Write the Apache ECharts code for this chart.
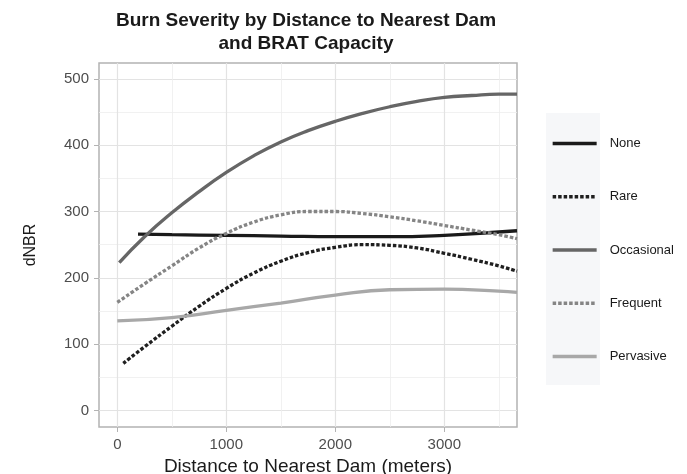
<!DOCTYPE html>
<html>
<head>
<meta charset="utf-8">
<script src="https://cdn.jsdelivr.net/npm/echarts@6/dist/echarts.min.js"></script>
<style>
  html, body { margin: 0; padding: 0; background: #fff; }
  #chart { width: 687px; height: 474px; }
</style>
</head>
<body>
<div id="chart"></div>
<script>
// smoothed dNBR by distance
const seriesNames = ['None', 'Rare', 'Occasional', 'Frequent', 'Pervasive']

const noneX = [190, 500, 1000, 1500, 2000, 2500, 3000, 3400, 3667]
const noneY = [266, 265, 264, 263, 262, 262, 264, 268, 271]

const rareX = [55, 250, 500, 750, 1000, 1250, 1500, 1750, 2000, 2250, 2500, 2750, 3000, 3250, 3500, 3667]
const rareY = [71, 96, 127, 157, 184, 207, 225, 238, 246, 250, 249, 245, 237, 228, 218, 210]

const occX = [18, 250, 500, 750, 1000, 1250, 1500, 1750, 2000, 2250, 2500, 2750, 3000, 3250, 3500, 3667]
const occY = [223, 262, 298, 330, 359, 384, 405, 422, 436, 448, 458, 466, 472, 475, 477, 477]

const freqX = [0, 250, 500, 750, 1000, 1250, 1500, 1750, 2000, 2250, 2500, 2750, 3000, 3250, 3500, 3667]
const freqY = [163, 191, 218, 245, 267, 284, 295, 300, 300, 297, 292, 286, 279, 272, 265, 259]

const pervX = [0, 500, 1000, 1500, 2000, 2500, 3000, 3500, 3667]
const pervY = [135, 140, 151, 162, 174, 182, 183, 180, 178]

const xTicks = [0, 1000, 2000, 3000]
const xMinor = [500, 1500, 2500, 3500]
const yTicks = [0, 100, 200, 300, 400, 500]
const yMinor = [50, 150, 250, 350, 450]

const pairs = (xs, ys) => xs.map((x, i) => [x, ys[i]])

const chart = echarts.init(document.getElementById('chart'))

const axisText = { color: '#4d4d4d', fontSize: 15, fontFamily: 'Liberation Sans' }

function mkLine(name, xs, ys, color, dashed) {
  return {
    name: name,
    type: 'line',
    smooth: 0.5,
    symbol: 'none',
    xAxisIndex: 0,
    yAxisIndex: 0,
    lineStyle: {
      color: color,
      width: 3.3,
      type: dashed ? [3.5, 2] : 'solid',
      cap: 'butt'
    },
    itemStyle: { color: color },
    data: pairs(xs, ys),
    animation: false
  }
}

chart.setOption({
  backgroundColor: '#fff',
  textStyle: { fontFamily: 'Liberation Sans' },
  grid: {
    left: 99,
    right: 170,
    top: 63,
    bottom: 47,
    outerBoundsMode: 'none',
    containLabel: false,
    show: true,
    borderColor: '#b3b3b3',
    borderWidth: 1.5,
    backgroundColor: '#fff'
  },
  graphic: [
    {
      type: 'rect',
      left: 546,
      top: 113,
      shape: { width: 54, height: 272 },
      style: { fill: '#f6f7f9' },
      z: -1
    },
    {
      type: 'text',
      x: 306,
      y: 9,
      style: {
        text: 'Burn Severity by Distance to Nearest Dam\nand BRAT Capacity',
        align: 'center',
        fill: '#1a1a1a',
        font: 'bold 19px "Liberation Sans"',
        lineHeight: 23
      }
    }
  ],
  legend: {
    orient: 'vertical',
    left: 551,
    top: 137,
    padding: 0,
    itemWidth: 44,
    itemHeight: 14,
    itemGap: 40.25,
    itemStyle: { opacity: 0 },
    lineStyle: { width: 3.3 },
    textStyle: { color: '#1a1a1a', fontSize: 13, fontFamily: 'Liberation Sans', padding: [0, 0, 0, 8] },
    data: seriesNames
  },
  xAxis: [
    {
      type: 'value',
      min: -168,
      max: 3667,
      name: 'Distance to Nearest Dam (meters)',
      nameLocation: 'middle',
      nameGap: 26,
      nameTextStyle: { color: '#1a1a1a', fontSize: 19, fontFamily: 'Liberation Sans' },
      axisLine: { show: false, onZero: false },
      axisTick: { show: true, customValues: xTicks, length: 5, lineStyle: { color: '#b3b3b3', width: 1 } },
      axisLabel: { customValues: xTicks, ...axisText, margin: 10, formatter: v => String(v) },
      splitLine: { show: true, lineStyle: { color: '#e3e3e3', width: 1.2 } }
    },
    {
      type: 'value',
      min: -168,
      max: 3667,
      position: 'bottom',
      axisLine: { show: false, onZero: false },
      axisTick: { show: false, customValues: xMinor },
      axisLabel: { show: false, customValues: xMinor },
      splitLine: { show: true, lineStyle: { color: '#ededed', width: 0.8 } }
    }
  ],
  yAxis: [
    {
      type: 'value',
      min: -25,
      max: 524,
      name: 'dNBR',
      nameLocation: 'middle',
      nameGap: 60,
      nameRotate: 90,
      nameTextStyle: { color: '#1a1a1a', fontSize: 16, fontFamily: 'Liberation Sans' },
      axisLine: { show: false, onZero: false },
      axisTick: { show: true, customValues: yTicks, length: 5, lineStyle: { color: '#b3b3b3', width: 1 } },
      axisLabel: { customValues: yTicks, ...axisText, margin: 10 },
      splitLine: { show: true, lineStyle: { color: '#e3e3e3', width: 1.2 } }
    },
    {
      type: 'value',
      min: -25,
      max: 524,
      position: 'left',
      axisLine: { show: false, onZero: false },
      axisTick: { show: false, customValues: yMinor },
      axisLabel: { show: false, customValues: yMinor },
      splitLine: { show: true, lineStyle: { color: '#ededed', width: 0.8 } }
    }
  ],
  series: [
    mkLine('None', noneX, noneY, '#1a1a1a', false),
    mkLine('Rare', rareX, rareY, '#1f1f1f', true),
    mkLine('Occasional', occX, occY, '#666666', false),
    mkLine('Frequent', freqX, freqY, '#858585', true),
    mkLine('Pervasive', pervX, pervY, '#a8a8a8', false)
  ]
})
</script>
</body>
</html>
